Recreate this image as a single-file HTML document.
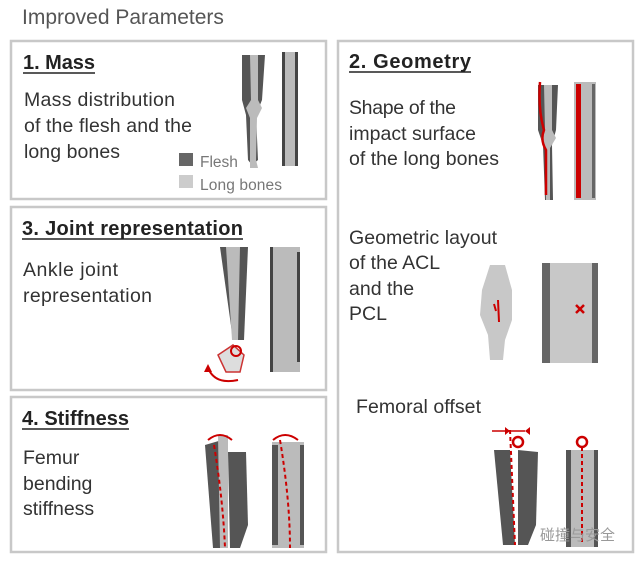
<!DOCTYPE html>
<html><head><meta charset="utf-8"><style>
html,body{margin:0;padding:0;background:#fff;width:644px;height:563px;overflow:hidden}
svg{display:block}
text{font-family:"Liberation Sans","Noto Sans CJK SC",sans-serif;fill:#333}
.h{font-size:20px;font-weight:bold;fill:#222}
.b{font-size:19.5px;fill:#333}
</style></head><body>
<svg width="644" height="563" viewBox="0 0 644 563" xmlns="http://www.w3.org/2000/svg">
<text x="22" y="24" style="font-size:21px;fill:#555">Improved  Parameters</text>
<g fill="none" stroke="#c8c8c8" stroke-width="2.5">
<rect x="11" y="41" width="315" height="158"/>
<rect x="11" y="207" width="315" height="183"/>
<rect x="11" y="397" width="315" height="155"/>
<rect x="338" y="41" width="295" height="511"/>
</g>
<!-- Mass -->
<text class="h" x="23" y="69" textLength="72">1. Mass</text>
<line x1="23" y1="73" x2="95" y2="73" stroke="#222" stroke-width="1.5"/>
<text class="b" x="24" y="106" textLength="151">Mass distribution</text>
<text class="b" x="24" y="132" textLength="168">of the flesh and the</text>
<text class="b" x="24" y="158" textLength="96">long bones</text>
<path d="M242 55 L265 55 L262 100 L256 115 L258 160 L252 165 L248 160 L246 115 L242 100 Z" fill="#555"/>
<path d="M250 55 L258 55 L258 100 L262 108 L257 118 L256 160 L258 168 L250 168 L250 118 L246 108 L251 100 Z" fill="#bbb"/>
<rect x="282" y="52" width="16" height="114" fill="#bbb"/>
<rect x="282" y="52" width="3" height="114" fill="#444"/><rect x="295" y="52" width="3" height="114" fill="#444"/>
<rect x="179" y="153" width="14" height="13" fill="#666"/>
<text x="200" y="167" style="font-size:15.5px;fill:#777">Flesh</text>
<rect x="179" y="175" width="14" height="13" fill="#ccc"/>
<text x="200" y="190" style="font-size:15.5px;fill:#777" textLength="82">Long bones</text>
<!-- Joint -->
<text class="h" x="22" y="235" textLength="221">3. Joint representation</text>
<line x1="22" y1="239" x2="243" y2="239" stroke="#222" stroke-width="1.5"/>
<text class="b" x="23" y="276" textLength="95">Ankle joint</text>
<text class="b" x="23" y="302" textLength="129">representation</text>
<path d="M220 247 L248 247 L244 340 L233 340 Z" fill="#555"/>
<path d="M226 247 L240 247 L238 340 L232 340 Z" fill="#bbb"/>
<path d="M218 355 L233 345 L244 355 L240 372 L226 372 Z" fill="#ddd" stroke="#c33" stroke-width="1.5"/>
<circle cx="236" cy="351" r="5" fill="none" stroke="#c00" stroke-width="2"/>
<path d="M208 368 Q215 385 238 380" fill="none" stroke="#c00" stroke-width="2"/>
<path d="M204 372 L208 364 L212 372 Z" fill="#c00"/>
<rect x="270" y="247" width="30" height="125" fill="#bbb"/>
<rect x="270" y="247" width="3" height="125" fill="#444"/><rect x="297" y="252" width="3" height="110" fill="#444"/>
<!-- Stiffness -->
<text class="h" x="22" y="425" textLength="107">4. Stiffness</text>
<line x1="22" y1="429" x2="129" y2="429" stroke="#222" stroke-width="1.5"/>
<text class="b" x="23" y="464">Femur</text>
<text class="b" x="23" y="490">bending</text>
<text class="b" x="23" y="515">stiffness</text>
<path d="M205 445 L222 440 L225 548 L213 548 Z" fill="#555"/>
<path d="M228 452 L246 452 L248 525 L240 548 L230 548 Z" fill="#555"/>
<path d="M218 435 L228 435 L228 548 L220 548 Z" fill="#bbb"/>
<path d="M214 445 Q223 500 225 548" fill="none" stroke="#c00" stroke-width="2" stroke-dasharray="4 3"/>
<path d="M208 440 Q220 430 232 440" fill="none" stroke="#c00" stroke-width="2"/>
<rect x="272" y="442" width="32" height="106" fill="#bbb"/>
<rect x="272" y="445" width="6" height="100" fill="#555"/><rect x="300" y="445" width="4" height="100" fill="#555"/>
<path d="M280 440 Q290 500 290 548" fill="none" stroke="#c00" stroke-width="2" stroke-dasharray="4 3"/>
<path d="M273 440 Q285 430 298 440" fill="none" stroke="#c00" stroke-width="2"/>
<!-- Geometry -->
<text class="h" x="349" y="68" textLength="122">2. Geometry</text>
<line x1="349" y1="72" x2="471" y2="72" stroke="#222" stroke-width="1.5"/>
<text class="b" x="349" y="114" textLength="107">Shape of the</text>
<text class="b" x="349" y="140" textLength="127">impact surface</text>
<text class="b" x="349" y="165" textLength="150">of the long bones</text>
<path d="M538 85 L558 85 L556 130 L552 145 L553 200 L545 200 L543 145 L538 130 Z" fill="#555"/>
<path d="M544 85 L552 85 L552 130 L556 138 L550 148 L550 200 L546 200 L545 148 L541 138 L545 130 Z" fill="#bbb"/>
<path d="M540 82 Q538 110 544 130 Q540 140 546 150 L546 195" fill="none" stroke="#c00" stroke-width="2.5"/>
<rect x="574" y="82" width="22" height="118" fill="#bbb"/>
<rect x="576" y="84" width="5" height="114" fill="#c00"/><rect x="592" y="84" width="3" height="114" fill="#666"/>
<text class="b" x="349" y="244" textLength="148">Geometric layout</text>
<text class="b" x="349" y="269">of the ACL</text>
<text class="b" x="349" y="295">and the</text>
<text class="b" x="349" y="320">PCL</text>
<path d="M490 265 L505 265 L512 290 L512 320 L505 340 L503 360 L490 360 L488 335 L480 315 L482 290 Z" fill="#c8c8c8"/>
<path d="M498 300 L499 322 M494 304 L496 311" stroke="#c00" stroke-width="2"/>
<rect x="542" y="263" width="56" height="100" fill="#c8c8c8"/>
<rect x="542" y="263" width="8" height="100" fill="#666"/><rect x="592" y="263" width="6" height="100" fill="#666"/>
<path d="M576 305 L584 313 M584 305 L576 313" stroke="#c00" stroke-width="2.5"/>
<text class="b" x="356" y="413" textLength="125">Femoral offset</text>
<path d="M492 431 L525 431" stroke="#c00" stroke-width="1.5"/>
<path d="M505 427 L510 431 L505 435 Z M530 427 L525 431 L530 435 Z" fill="#c00"/>
<circle cx="518" cy="442" r="5" fill="none" stroke="#c00" stroke-width="2.5"/>
<path d="M494 450 L510 450 L515 545 L503 545 Z" fill="#555"/>
<path d="M518 450 L538 452 L536 525 L528 545 L518 545 Z" fill="#555"/>
<path d="M510 430 L515 545" stroke="#c00" stroke-width="2" stroke-dasharray="4 3"/>
<circle cx="582" cy="442" r="5" fill="none" stroke="#c00" stroke-width="2.5"/>
<rect x="566" y="450" width="32" height="97" fill="#bbb"/>
<rect x="566" y="450" width="5" height="97" fill="#555"/><rect x="594" y="450" width="4" height="97" fill="#555"/>
<path d="M582 447 L582 545" stroke="#c00" stroke-width="2" stroke-dasharray="4 3"/>
<text x="540" y="540" style="font-size:15px;fill:#999">碰撞与安全</text>
</svg>
</body></html>
